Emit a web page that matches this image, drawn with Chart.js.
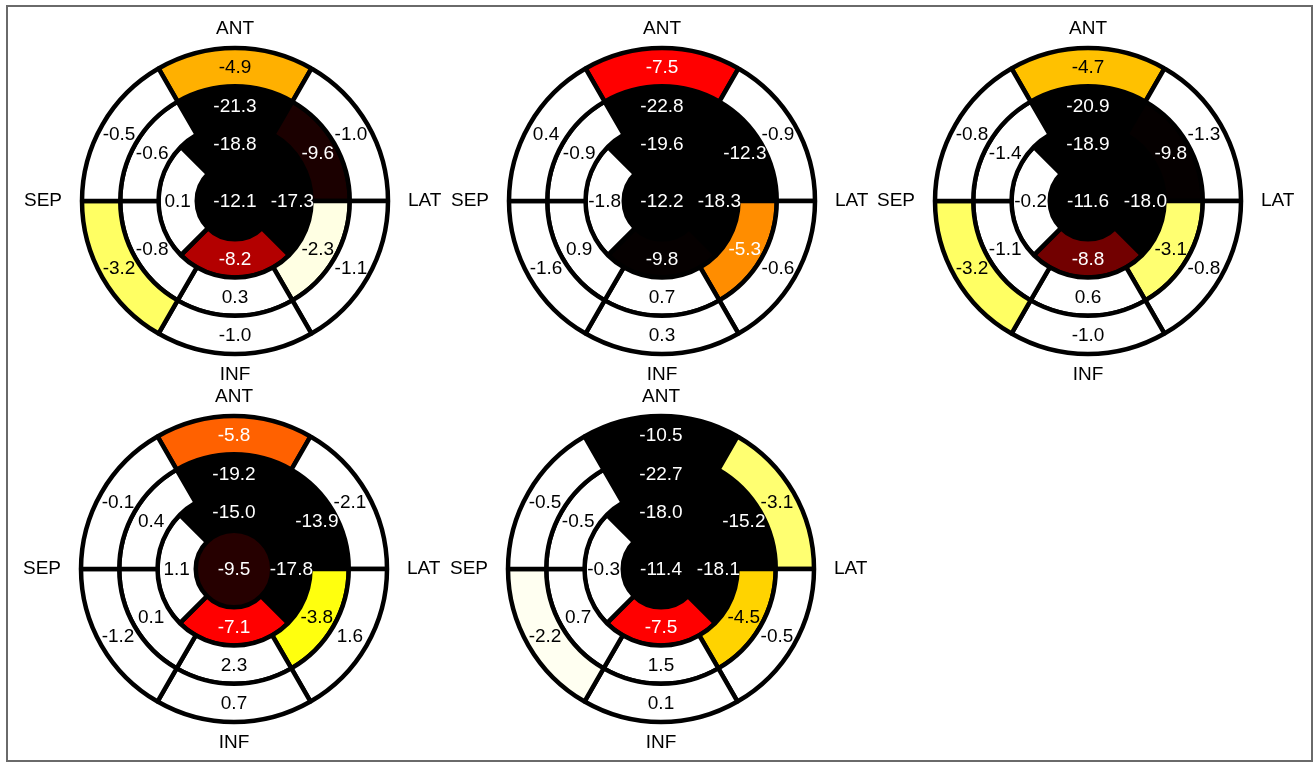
<!DOCTYPE html>
<html>
<head>
<meta charset="utf-8">
<script src="https://cdn.jsdelivr.net/npm/chart.js@4/dist/chart.umd.min.js"></script>
<style>
  html, body { margin: 0; padding: 0; background: #fff; }
  body { width: 1314px; height: 763px; position: relative; overflow: hidden; }
  #frame { position: absolute; left: 6px; top: 5px; width: 1303px; height: 753px; border: 2px solid #6a6a6a; }
  canvas.panel { position: absolute; }
</style>
</head>
<body>
<div id="frame"></div>
<canvas id="p1" class="panel" width="440" height="360"></canvas>
<canvas id="p2" class="panel" width="440" height="360"></canvas>
<canvas id="p3" class="panel" width="440" height="360"></canvas>
<canvas id="p4" class="panel" width="440" height="360"></canvas>
<canvas id="p5" class="panel" width="440" height="360"></canvas>
<script>
// 17-segment bullseye: basal and mid rings run clockwise from the anterior segment,
// apical ring is anterior / lateral / inferior / septal, then the apex.
const ringSegments = ['anterior', 'anterolateral', 'inferolateral', 'inferior', 'inferoseptal', 'anteroseptal'];
const apicalSegments = ['anterior', 'lateral', 'inferior', 'septal'];
const wallLabels = ['ANT', 'LAT', 'INF', 'SEP'];

// Peak systolic strain (%) per segment
const p1Basal  = [-4.9, -1.0, -1.1, -1.0, -3.2, -0.5];
const p1Mid    = [-21.3, -9.6, -2.3, 0.3, -0.8, -0.6];
const p1Apical = [-18.8, -17.3, -8.2, 0.1];
const p1Apex   = [-12.1];

const p2Basal  = [-7.5, -0.9, -0.6, 0.3, -1.6, 0.4];
const p2Mid    = [-22.8, -12.3, -5.3, 0.7, 0.9, -0.9];
const p2Apical = [-19.6, -18.3, -9.8, -1.8];
const p2Apex   = [-12.2];

const p3Basal  = [-4.7, -1.3, -0.8, -1.0, -3.2, -0.8];
const p3Mid    = [-20.9, -9.8, -3.1, 0.6, -1.1, -1.4];
const p3Apical = [-18.9, -18.0, -8.8, -0.2];
const p3Apex   = [-11.6];

const p4Basal  = [-5.8, -2.1, 1.6, 0.7, -1.2, -0.1];
const p4Mid    = [-19.2, -13.9, -3.8, 2.3, 0.1, 0.4];
const p4Apical = [-15.0, -17.8, -7.1, 1.1];
const p4Apex   = [-9.5];

const p5Basal  = [-10.5, -3.1, -0.5, 0.1, -2.2, -0.5];
const p5Mid    = [-22.7, -15.2, -4.5, 1.5, 0.7, -0.5];
const p5Apical = [-18.0, -18.1, -7.5, -0.3];
const p5Apex   = [-11.4];

// "hot" colour scale: black for strongly negative strain, through red and yellow, to white
function hot(v) {
  const c = x => Math.max(0, Math.min(1, x));
  const r = c((v + 9.85) / 2.35);
  const g = c((v + 6.9) / 2.9);
  const b = c((v + 3.9) / 1.8);
  return 'rgb(' + Math.round(r * 255) + ',' + Math.round(g * 255) + ',' + Math.round(b * 255) + ')';
}

const FONT = '19px "Liberation Sans", Arial, Helvetica, sans-serif';

const segmentText = {
  id: 'segmentText',
  afterDatasetsDraw(chart) {
    const ctx = chart.ctx;
    ctx.save();
    ctx.font = FONT;
    ctx.textAlign = 'center';
    ctx.textBaseline = 'middle';
    chart.data.datasets.forEach((ds, di) => {
      chart.getDatasetMeta(di).data.forEach((arc, i) => {
        const p = arc.getProps(['x', 'y', 'startAngle', 'endAngle', 'innerRadius', 'outerRadius'], true);
        const v = ds.strain[i];
        let x = p.x, y = p.y;
        if (p.innerRadius > 0.5) {
          const a = (p.startAngle + p.endAngle) / 2;
          const r = (p.innerRadius + p.outerRadius) / 2;
          x += Math.cos(a) * r;
          y += Math.sin(a) * r;
        }
        ctx.fillStyle = v < -5 ? '#ffffff' : '#000000';
        ctx.fillText(v.toFixed(1), x, y + 1);
      });
    });
    ctx.restore();
  },
  afterDraw(chart) {
    const ctx = chart.ctx;
    const a = chart.chartArea;
    const cx = (a.left + a.right) / 2, cy = (a.top + a.bottom) / 2;
    ctx.save();
    ctx.font = FONT;
    ctx.fillStyle = '#000';
    ctx.textBaseline = 'middle';
    ctx.textAlign = 'center';
    ctx.fillText(wallLabels[0], cx, cy - 172);
    ctx.fillText(wallLabels[2], cx, cy + 174);
    ctx.textAlign = 'left';
    ctx.fillText(wallLabels[1], cx + 173, cy);
    ctx.textAlign = 'right';
    ctx.fillText(wallLabels[3], cx - 173, cy);
    ctx.restore();
  }
};

function ring(values, rotation, stroke) {
  return {
    data: values.map(() => 1),          // equal-sized segments
    strain: values,
    backgroundColor: values.map(hot),
    borderColor: '#000000',
    borderWidth: stroke,
    rotation: rotation,
    circumference: 360
  };
}

function bullseye(id, cx, cy, basal, mid, apical, apex) {
  const el = document.getElementById(id);
  el.style.left = (cx - 220) + 'px';
  el.style.top = (cy - 180) + 'px';
  return new Chart(el, {
    type: 'doughnut',
    data: {
      labels: ringSegments,
      datasets: [
        ring(basal, -30, 4.5),
        ring(mid, -30, 4.5),
        ring(apical, -45, 4.5),
        ring(apex, 0, 0)
      ]
    },
    options: {
      responsive: false,
      animation: false,
      events: [],
      cutout: 0,
      radius: 153,
      layout: { padding: 0 },
      plugins: { legend: { display: false }, tooltip: { enabled: false } }
    },
    plugins: [segmentText]
  });
}

bullseye('p1', 235, 201, p1Basal, p1Mid, p1Apical, p1Apex);
bullseye('p2', 662, 201, p2Basal, p2Mid, p2Apical, p2Apex);
bullseye('p3', 1088, 201, p3Basal, p3Mid, p3Apical, p3Apex);
bullseye('p4', 234, 569, p4Basal, p4Mid, p4Apical, p4Apex);
bullseye('p5', 661, 569, p5Basal, p5Mid, p5Apical, p5Apex);
</script>
</body>
</html>
